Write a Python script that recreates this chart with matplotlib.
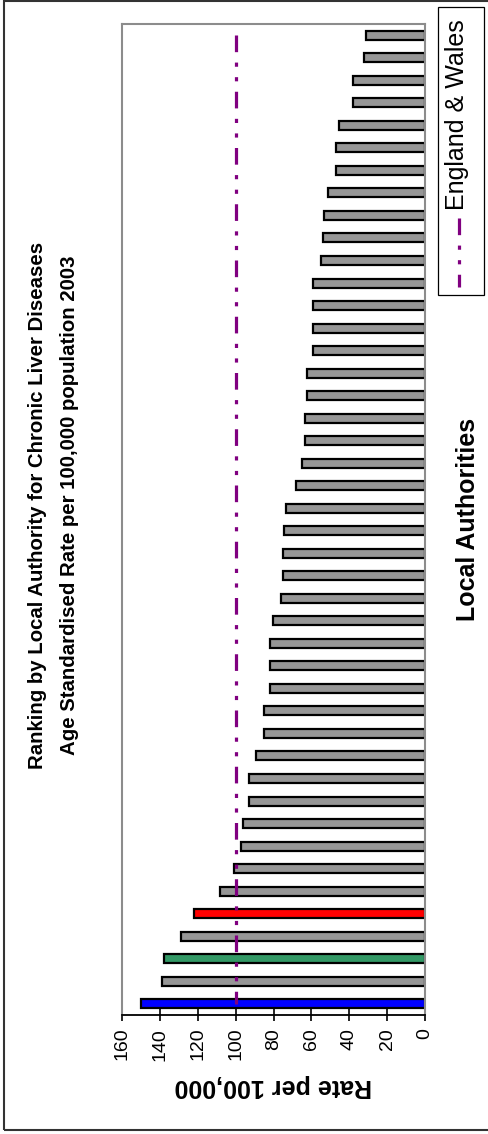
import numpy as np
import matplotlib.pyplot as plt
from matplotlib.patches import Rectangle
from matplotlib.lines import Line2D

plt.rcParams['font.family'] = ['Liberation Sans', 'DejaVu Sans']
plt.rcParams['lines.scale_dashes'] = False

# Rates per 100,000, ranked (index 0 = highest, drawn at the bottom)
rates = [150.0, 139.1, 137.9, 128.9, 122.0, 108.1, 101.1, 97.2, 96.0, 93.0,
         93.0, 89.1, 85.0, 85.0, 82.0, 82.0, 82.0, 80.3, 76.2, 75.2,
         75.2, 74.3, 73.4, 68.1, 65.1, 63.4, 63.4, 62.1, 62.1, 59.3,
         59.3, 59.3, 59.3, 55.1, 54.0, 53.3, 51.2, 47.0, 47.0, 45.2,
         38.2, 38.2, 32.2, 31.2]
highlight = {0: '#0000FF', 2: '#339966', 4: '#FF0000'}
england_wales = 100
value_ticks = [0, 20, 40, 60, 80, 100, 120, 140, 160]

W, H = 488, 1134
fig = plt.figure(figsize=(W / 100, H / 100), dpi=100)
ax = fig.add_axes([122 / W, 1 - 1015 / H, (425 - 122) / W, (1015 - 24) / H])

pos = np.arange(len(rates))
colors = [highlight.get(i, '#969696') for i in pos]
ax.barh(pos, rates, height=0.4, color=colors, edgecolor='black', linewidth=1.6, zorder=2)

# England & Wales reference line (drawn top to bottom so the dash pattern starts at the top)
ew_line = (0, (12, 7.5, 3, 7.5, 3, 7.5))
ax.plot([england_wales] * len(pos), pos[::-1], color='#800080', lw=2.3,
        linestyle=ew_line, zorder=3)

ax.set_xlim(160, 0)
ax.set_ylim(-0.5, len(rates) - 0.5)
ax.set_xticks(value_ticks)
ax.set_xticklabels([str(v) for v in value_ticks], rotation=90, fontsize=14)
ax.set_yticks([])
ax.tick_params(axis='x', direction='inout', length=8.5, width=1.2, pad=5)

for side in ['top', 'left', 'right']:
    ax.spines[side].set_color('#8c8c8c')
    ax.spines[side].set_linewidth(1.5)
ax.spines['bottom'].set_color('black')
ax.spines['bottom'].set_linewidth(1.3)

ax.set_xlabel('Rate per 100,000', rotation=180, fontsize=18, fontweight='bold', labelpad=10)
ax.yaxis.set_label_position('right')
ax.set_ylabel('Local Authorities', rotation=90, fontsize=18, fontweight='bold', labelpad=22)

# Title, two lines
fig.text(38 / W, 1 - 505 / H, 'Ranking by Local Authority for Chronic Liver Diseases',
         rotation=90, ha='center', va='center', fontsize=14.7, fontweight='bold')
fig.text(70 / W, 1 - 505 / H, 'Age Standardised Rate per 100,000 population 2003',
         rotation=90, ha='center', va='center', fontsize=14.7, fontweight='bold')

# Legend drawn by hand (rotated)
fig.patches.append(Rectangle((438 / W, 1 - 295 / H), (484 - 438) / W, (295 - 7) / H,
                             transform=fig.transFigure, fill=False, edgecolor='black', lw=0.9))
fig.text(457 / W, 1 - 115 / H, 'England & Wales', rotation=90, ha='center', va='center',
         fontsize=18)
fig.lines.append(Line2D([459 / W, 459 / W], [1 - 218 / H, 1 - 287 / H], transform=fig.transFigure,
                        color='#800080', lw=2.3, linestyle=ew_line))

# Outer chart border
fig.patches.append(Rectangle((4 / W, 1 - 1130 / H), 1.0, (1130 - 1) / H, transform=fig.transFigure,
                             fill=False, edgecolor='#333333', lw=1.5))

fig.savefig('out.png', dpi=100)
